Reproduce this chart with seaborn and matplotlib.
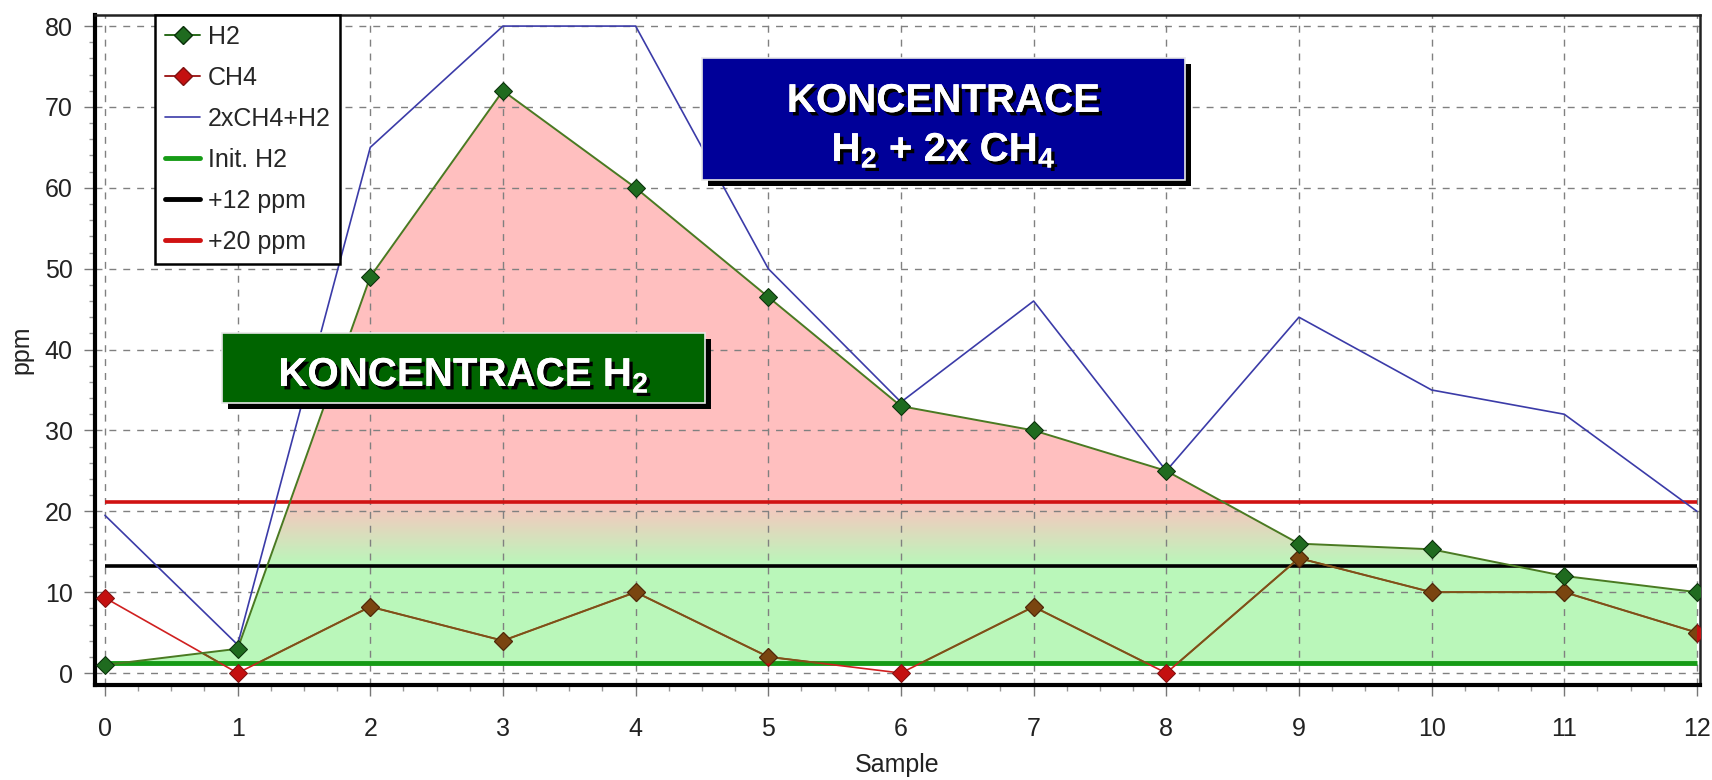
import numpy as np
import pandas as pd
import matplotlib
matplotlib.use("Agg")
import matplotlib.pyplot as plt
import matplotlib.patheffects as pe
from matplotlib.patches import Rectangle
from matplotlib.ticker import MultipleLocator
import seaborn as sns

# data
samples = [0, 1, 2, 3, 4, 5, 6, 7, 8, 9, 10, 11, 12]
h2 = [1.0, 3.0, 49.0, 72.0, 60.0, 46.5, 33.0, 30.0, 25.0, 16.0, 15.3, 12.0, 10.0]
ch4 = [9.3, 0.0, 8.2, 4.0, 10.0, 2.0, 0.0, 8.2, 0.0, 14.2, 10.0, 10.0, 5.0]
h2_2ch4 = [19.5, 3.5, 65.0, 80.0, 80.0, 50.0, 33.5, 46.0, 25.0, 44.0, 35.0, 32.0, 20.0]
init_h2 = 1.2
limit_12 = 13.2
limit_20 = 21.2

df = pd.DataFrame({"Sample": samples, "H2": h2, "CH4": ch4, "2xCH4+H2": h2_2ch4})

sns.set_theme(style="white")
plt.rcParams["font.family"] = ["Liberation Sans", "DejaVu Sans"]
plt.rcParams["mathtext.fontset"] = "custom"
plt.rcParams["mathtext.rm"] = "Liberation Sans:bold"
plt.rcParams["mathtext.bf"] = "Liberation Sans:bold"

W, H = 1712, 780
fig = plt.figure(figsize=(W / 100, H / 100), dpi=100)
ax = fig.add_axes([95 / W, 1 - 685 / H, (1700 - 95) / W, (685 - 15) / H])

ax.set_xlim(-0.075, 12.023)
ax.set_ylim(-1.48, 81.37)

# gradient fill between initial H2 and H2 curve
poly = ax.fill_between(df["Sample"], init_h2, df["H2"], facecolor="none", edgecolor="none")
green = np.array([0.73, 0.97, 0.73])
pink = np.array([1.0, 0.75, 0.75])
yy = np.linspace(init_h2, 80, 400)
t = np.clip((yy - limit_12) / (limit_20 + 0.5 - limit_12), 0, 1)[:, None]
grad = (green * (1 - t) + pink * t)[:, None, :]
img = ax.imshow(grad, extent=[0, 12, init_h2, 80], origin="lower", aspect="auto",
                zorder=0.5, interpolation="bilinear")
img.set_clip_path(poly.get_paths()[0], ax.transData)

# grid and ticks
ax.set_axisbelow("line")
ax.set_xticks(range(0, 13))
ax.set_yticks(range(0, 81, 10))
ax.xaxis.set_minor_locator(MultipleLocator(0.25))
ax.yaxis.set_minor_locator(MultipleLocator(2))
ax.grid(True, which="major", color="#808080", linestyle=(0, (5, 5)), linewidth=1.0)
ax.tick_params(which="major", direction="out", length=8, width=1, color="#777777",
               labelsize=18, labelcolor="#222222", bottom=True, left=True)
ax.tick_params(axis="x", which="major", pad=15)
ax.tick_params(axis="y", which="major", pad=8)
ax.tick_params(which="minor", direction="out", length=4.5, width=1, color="#999999",
               bottom=True, left=True)

for side in ["left", "bottom"]:
    ax.spines[side].set_linewidth(3)
    ax.spines[side].set_color("black")
for side in ["top", "right"]:
    ax.spines[side].set_linewidth(1.8)
    ax.spines[side].set_color("#222222")

# threshold lines
ax.hlines(init_h2, 0, 12, color="#169b16", linewidth=3.5, zorder=2.6)
ax.hlines(limit_12, 0, 12, color="black", linewidth=2.6, zorder=2.6)
ax.hlines(limit_20, 0, 12, color="#d01212", linewidth=2.6, zorder=2.6)

# series
sns.lineplot(data=df, x="Sample", y="2xCH4+H2", ax=ax, color="#3b3ba8", linewidth=1.2, zorder=3)
sns.lineplot(data=df, x="Sample", y="CH4", ax=ax, color="#d02020", linewidth=1.2,
             marker="D", markersize=9, markerfacecolor="#c41010", markeredgecolor="#801010", zorder=4)
sns.lineplot(data=df, x="Sample", y="CH4", ax=ax, color="#7a5418", linewidth=1.4,
             marker="D", markersize=9, markerfacecolor="#7a4510", markeredgecolor="#4a2a08", zorder=4.1)
ax.lines[-1].set_clip_path(poly.get_paths()[0], ax.transData)
sns.lineplot(data=df, x="Sample", y="H2", ax=ax, color="#4a7a22", linewidth=1.4,
             marker="D", markersize=9.5, markerfacecolor="#1f6b1f", markeredgecolor="#0a300a", zorder=5)

ax.set_xlabel("Sample", fontsize=18, color="#222222", labelpad=9)
ax.set_ylabel("ppm", fontsize=18, color="#222222", labelpad=8)

# legend
handles = [
    plt.Line2D([], [], color="#2a6a1a", lw=1.4, marker="D", markersize=9,
               markerfacecolor="#1f6b1f", markeredgecolor="#0a300a"),
    plt.Line2D([], [], color="#a02020", lw=1.4, marker="D", markersize=9,
               markerfacecolor="#c41010", markeredgecolor="#801010"),
    plt.Line2D([], [], color="#3b3ba8", lw=1.2),
    plt.Line2D([], [], color="#169b16", lw=3.5),
    plt.Line2D([], [], color="black", lw=3.5),
    plt.Line2D([], [], color="#d01212", lw=3.5),
]
labels = ["H2", "CH4", "2xCH4+H2", "Init. H2", "+12 ppm", "+20 ppm"]
leg = ax.legend(handles, labels, loc="upper left", bbox_to_anchor=((155 - 95) / (1700 - 95), 1.0),
                borderaxespad=0, fontsize=18, frameon=True, fancybox=False, framealpha=1,
                edgecolor="black", handlelength=1.4, handletextpad=0.3, labelspacing=0.68,
                borderpad=0.4)
leg.get_frame().set_linewidth(1.8)
leg.set_zorder(10)


# text boxes
def label_box(x0, y0, x1, y1, color, lines):
    shadow = Rectangle((x0 / W + 6 / W, 1 - y1 / H - 6 / H), (x1 - x0) / W, (y1 - y0) / H,
                       transform=fig.transFigure, facecolor="black", edgecolor="none", zorder=20)
    box = Rectangle((x0 / W, 1 - y1 / H), (x1 - x0) / W, (y1 - y0) / H,
                    transform=fig.transFigure, facecolor=color, edgecolor="#e8e8e8",
                    linewidth=1.2, zorder=21)
    fig.patches.extend([shadow, box])
    for txt, base in lines:
        fig.text((x0 + x1) / 2 / W, 1 - base / H, txt, ha="center", va="baseline",
                 color="white", fontsize=29, fontweight="bold", family="Liberation Sans",
                 zorder=22,
                 path_effects=[pe.withSimplePatchShadow(offset=(2.5, -2.5), shadow_rgbFace="black", alpha=1),
                               pe.Normal()])


label_box(702, 58, 1185, 180, "#000099",
          [("KONCENTRACE", 112), (r"H$_\mathbf{2}$ + 2x CH$_\mathbf{4}$", 161)])
label_box(222, 333, 705, 403, "#006400",
          [(r"KONCENTRACE H$_\mathbf{2}$", 386)])

fig.savefig("out.png", dpi=100)
